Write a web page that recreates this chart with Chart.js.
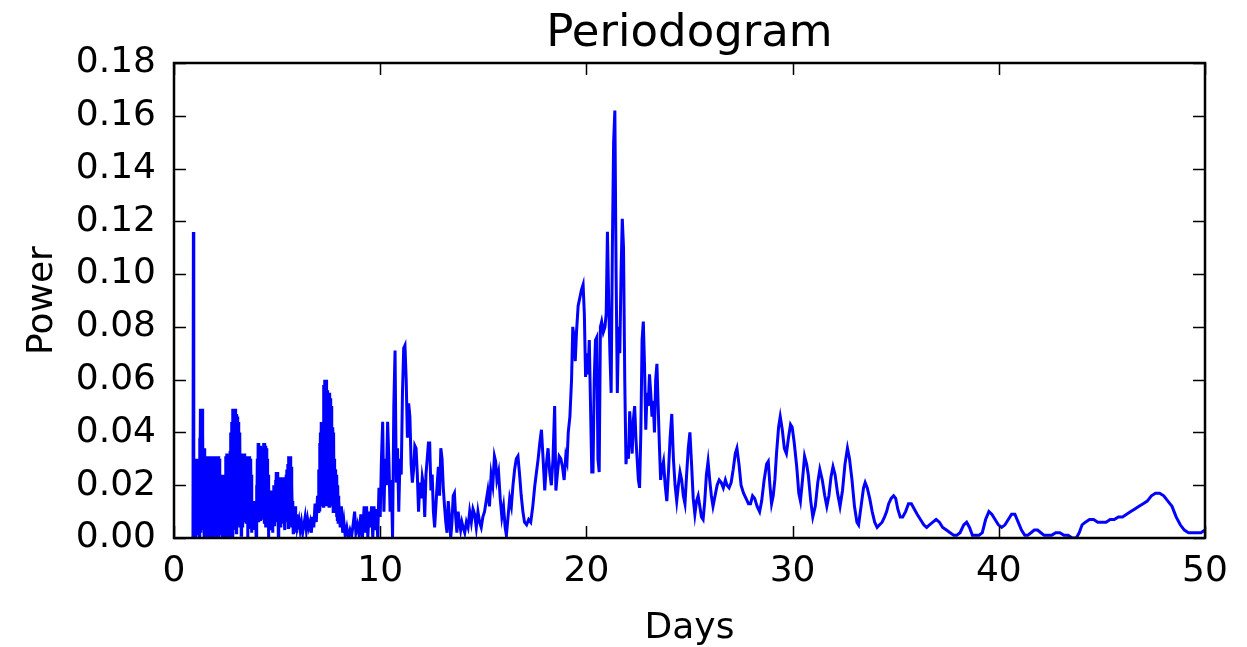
<!DOCTYPE html>
<html>
<head>
<meta charset="utf-8">
<title>Periodogram</title>
<script src="https://cdn.jsdelivr.net/npm/chart.js@4.4.1/dist/chart.umd.min.js"></script>
<style>
    html, body { margin: 0; padding: 0; background: #ffffff; }
    #wrap { width: 1247px; height: 647px; }
</style>
</head>
<body>
<div id="wrap"><canvas id="periodogramChart" width="1247" height="647"></canvas></div>
<script>
// Periodogram: power vs. period (days)

const days = [
    0.92, 0.94, 0.96, 0.98,
    1.00, 1.02, 1.04, 1.06, 1.08, 1.10, 1.12, 1.14, 1.16, 1.18,
    1.20, 1.22, 1.24, 1.26, 1.28, 1.30, 1.32, 1.34, 1.36, 1.38,
    1.40, 1.42, 1.44, 1.46, 1.48, 1.50, 1.52, 1.54, 1.56, 1.58,
    1.60, 1.62, 1.64, 1.66, 1.68, 1.70, 1.72, 1.74, 1.76, 1.78,
    1.80, 1.82, 1.84, 1.86, 1.88, 1.90, 1.92, 1.94, 1.96, 1.98,
    2.00, 2.02, 2.04, 2.06, 2.08, 2.10, 2.12, 2.14, 2.16, 2.18,
    2.20, 2.22, 2.24, 2.26, 2.28, 2.30, 2.32, 2.34, 2.36, 2.38,
    2.40, 2.42, 2.44, 2.46, 2.48, 2.50, 2.52, 2.54, 2.56, 2.58,
    2.60, 2.62, 2.64, 2.66, 2.68, 2.70, 2.72, 2.74, 2.76, 2.78,
    2.80, 2.82, 2.84, 2.86, 2.88, 2.90, 2.92, 2.94, 2.96, 2.98,
    3.00, 3.02, 3.04, 3.06, 3.08, 3.10, 3.12, 3.14, 3.16, 3.18,
    3.20, 3.22, 3.24, 3.26, 3.28, 3.30, 3.32, 3.34, 3.36, 3.38,
    3.40, 3.42, 3.44, 3.46, 3.48, 3.50, 3.52, 3.54, 3.56, 3.58,
    3.60, 3.62, 3.64, 3.66, 3.68, 3.70, 3.72, 3.74, 3.76, 3.78,
    3.80, 3.82, 3.84, 3.86, 3.88, 3.90, 3.92, 3.94, 3.96, 3.98,
    4.00, 4.02, 4.04, 4.06, 4.08, 4.10, 4.12, 4.14, 4.16, 4.18,
    4.20, 4.22, 4.24, 4.26, 4.28, 4.30, 4.32, 4.34, 4.36, 4.38,
    4.40, 4.42, 4.44, 4.46, 4.48, 4.50, 4.52, 4.54, 4.56, 4.58,
    4.60, 4.62, 4.64, 4.66, 4.68, 4.70, 4.72, 4.74, 4.76, 4.78,
    4.80, 4.82, 4.84, 4.86, 4.88, 4.90, 4.92, 4.94, 4.96, 4.98,
    5.00, 5.02, 5.04, 5.06, 5.08, 5.10, 5.12, 5.14, 5.16, 5.18,
    5.20, 5.22, 5.24, 5.26, 5.28, 5.30, 5.32, 5.34, 5.36, 5.38,
    5.40, 5.42, 5.44, 5.46, 5.48, 5.50, 5.52, 5.54, 5.56, 5.58,
    5.60, 5.62, 5.64, 5.66, 5.68, 5.70, 5.72, 5.74, 5.76, 5.78,
    5.80, 5.82, 5.84, 5.86, 5.88, 5.90, 5.92, 5.94, 5.96, 5.98,
    6.00, 6.06,
    6.12, 6.18, 6.24, 6.30, 6.36, 6.42, 6.48, 6.54, 6.60, 6.66,
    6.72, 6.78, 6.84, 6.90, 6.96, 7.00,
    7.02, 7.04, 7.06, 7.08, 7.10, 7.12, 7.14, 7.16, 7.18, 7.20,
    7.22, 7.24, 7.26, 7.28, 7.30, 7.32, 7.34, 7.36, 7.38, 7.40,
    7.42, 7.44, 7.46, 7.48, 7.50, 7.52, 7.54, 7.56, 7.58, 7.60,
    7.62, 7.64, 7.66, 7.68, 7.70, 7.72, 7.74, 7.76, 7.78, 7.80,
    7.82, 7.84, 7.86, 7.88, 7.90, 7.92, 7.94, 7.96, 7.98,
    8.00, 8.06, 8.12, 8.18, 8.24, 8.30, 8.38, 8.46, 8.54, 8.62,
    8.70, 8.76, 8.82, 8.90, 8.98, 9.06, 9.14, 9.22, 9.28, 9.34,
    9.40, 9.46, 9.52, 9.58, 9.64, 9.70, 9.76, 9.82, 9.88, 9.94,
    10.00, 10.06, 10.12, 10.18, 10.24, 10.30, 10.36, 10.42, 10.48, 10.54,
    10.60, 10.66, 10.72, 10.78, 10.84, 10.90, 10.96, 11.02, 11.08, 11.14,
    11.20, 11.26, 11.32, 11.38, 11.44, 11.50, 11.56, 11.62, 11.68, 11.74,
    11.80, 11.86, 11.92, 11.98, 12.04, 12.10, 12.16, 12.22, 12.28, 12.34,
    12.40, 12.46, 12.52, 12.58, 12.64, 12.70, 12.76, 12.82, 12.88, 12.94,
    13.00, 13.06, 13.12, 13.18, 13.24, 13.30, 13.36, 13.42, 13.48, 13.54,
    13.60, 13.66, 13.72, 13.78, 13.84, 13.90, 13.96, 14.02, 14.10, 14.18,
    14.26, 14.34, 14.42, 14.50, 14.58, 14.66, 14.74, 14.82, 14.90, 14.98,
    15.06, 15.14, 15.22, 15.30, 15.38, 15.46, 15.54, 15.60, 15.66, 15.74,
    15.82, 15.90, 15.98, 16.06, 16.12, 16.20, 16.28, 16.36, 16.44, 16.52,
    16.60, 16.68, 16.76, 16.84, 16.92, 17.00, 17.10, 17.20, 17.30, 17.40,
    17.50, 17.58, 17.66, 17.74, 17.82, 17.90, 17.98, 18.06, 18.14, 18.22,
    18.30, 18.38, 18.46, 18.52, 18.60, 18.68, 18.76, 18.84, 18.92, 19.00,
    19.06, 19.12, 19.20, 19.28, 19.34, 19.40, 19.46, 19.52, 19.60, 19.68,
    19.76, 19.84, 19.90, 19.96, 20.02, 20.08, 20.14, 20.20, 20.26, 20.32,
    20.38, 20.44, 20.50, 20.56, 20.62, 20.68, 20.74, 20.82, 20.90, 20.96,
    21.02, 21.08, 21.14, 21.20, 21.26, 21.32, 21.38, 21.44, 21.50, 21.56,
    21.62, 21.68, 21.74, 21.80, 21.86, 21.92, 21.98, 22.04, 22.10, 22.16,
    22.22, 22.28, 22.34, 22.40, 22.46, 22.52, 22.58, 22.64, 22.70, 22.76,
    22.82, 22.88, 22.94, 23.00, 23.06, 23.12, 23.18, 23.24, 23.30, 23.36,
    23.42, 23.48, 23.54, 23.60, 23.66, 23.74, 23.82, 23.90, 23.98, 24.06,
    24.14, 24.22, 24.30, 24.38, 24.46, 24.54, 24.62, 24.70, 24.78, 24.86,
    24.94, 25.02, 25.10, 25.18, 25.26, 25.34, 25.42, 25.50, 25.58, 25.66,
    25.74, 25.82, 25.90, 25.98, 26.06, 26.14, 26.24, 26.34, 26.44, 26.54,
    26.64, 26.74, 26.82, 26.92, 27.02, 27.12, 27.22, 27.30, 27.40, 27.50,
    27.62, 27.74, 27.86, 27.96, 28.06, 28.16, 28.28, 28.40, 28.50, 28.62,
    28.74, 28.82, 28.90, 28.98, 29.06, 29.14, 29.22, 29.32, 29.40, 29.50,
    29.60, 29.70, 29.80, 29.90, 29.98, 30.08, 30.20, 30.30, 30.38, 30.48,
    30.58, 30.68, 30.76, 30.88, 30.98, 31.10, 31.22, 31.32, 31.44, 31.56,
    31.66, 31.76, 31.86, 31.96, 32.06, 32.18, 32.30, 32.42, 32.54, 32.66,
    32.76, 32.88, 33.00, 33.12, 33.20, 33.32, 33.44, 33.52, 33.62, 33.74,
    33.86, 33.98, 34.10, 34.22, 34.34, 34.46, 34.56, 34.66, 34.78, 34.90,
    35.00, 35.10, 35.22, 35.34, 35.48, 35.62, 35.76, 35.90, 36.04, 36.20,
    36.36, 36.50, 36.64, 36.80, 36.96, 37.12, 37.28, 37.46, 37.64, 37.82,
    37.96, 38.12, 38.30, 38.44, 38.58, 38.72, 38.88, 39.04, 39.20, 39.36,
    39.52, 39.66, 39.82, 39.98, 40.14, 40.30, 40.46, 40.62, 40.78, 40.94,
    41.10, 41.26, 41.40, 41.56, 41.72, 41.88, 42.04, 42.20, 42.36, 42.56,
    42.76, 42.96, 43.16, 43.36, 43.56, 43.76, 43.90, 44.04, 44.20, 44.40,
    44.60, 44.80, 45.00, 45.20, 45.40, 45.60, 45.80, 46.00, 46.20, 46.40,
    46.60, 46.80, 47.00, 47.20, 47.40, 47.60, 47.80, 48.00, 48.20, 48.40,
    48.60, 48.80, 49.00, 49.20, 49.40, 49.60, 49.80, 50.00
];

const power = [
    0.000, 0.116, 0.002, 0.028,
    0.030, 0.000, 0.029, 0.004, 0.030, 0.001, 0.027, 0.006, 0.030, 0.002,
    0.030, 0.000, 0.038, 0.005, 0.049, 0.002, 0.048, 0.008, 0.049, 0.003,
    0.040, 0.006, 0.034, 0.000, 0.034, 0.009, 0.031, 0.002, 0.029, 0.005,
    0.031, 0.000, 0.030, 0.007, 0.031, 0.001, 0.028, 0.004, 0.031, 0.000,
    0.030, 0.006, 0.031, 0.002, 0.029, 0.000, 0.031, 0.008, 0.030, 0.001,
    0.031, 0.004, 0.027, 0.000, 0.031, 0.006, 0.030, 0.002, 0.031, 0.000,
    0.030, 0.005, 0.024, 0.001, 0.024, 0.007, 0.022, 0.000, 0.024, 0.004,
    0.023, 0.000, 0.024, 0.006, 0.020, 0.002, 0.031, 0.000, 0.032, 0.005,
    0.031, 0.001, 0.032, 0.007, 0.030, 0.000, 0.033, 0.004, 0.040, 0.002,
    0.044, 0.006, 0.049, 0.000, 0.048, 0.008, 0.047, 0.003, 0.049, 0.006,
    0.045, 0.002, 0.047, 0.007, 0.046, 0.005, 0.044, 0.008, 0.040, 0.004,
    0.038, 0.006, 0.032, 0.001, 0.030, 0.007, 0.032, 0.004, 0.031, 0.008,
    0.032, 0.006, 0.030, 0.009, 0.031, 0.006, 0.028, 0.008, 0.031, 0.000,
    0.030, 0.006, 0.031, 0.009, 0.029, 0.004, 0.030, 0.008, 0.024, 0.002,
    0.014, 0.005, 0.013, 0.009, 0.014, 0.003, 0.012, 0.008, 0.013, 0.000,
    0.020, 0.004, 0.030, 0.008, 0.036, 0.006, 0.035, 0.010, 0.033, 0.007,
    0.035, 0.009, 0.030, 0.007, 0.028, 0.010, 0.034, 0.008, 0.036, 0.006,
    0.036, 0.009, 0.035, 0.004, 0.034, 0.010, 0.030, 0.007, 0.024, 0.000,
    0.020, 0.006, 0.018, 0.008, 0.017, 0.003, 0.018, 0.007, 0.016, 0.002,
    0.018, 0.009, 0.020, 0.005, 0.017, 0.008, 0.022, 0.010, 0.025, 0.006,
    0.024, 0.008, 0.025, 0.000, 0.022, 0.007, 0.023, 0.010, 0.021, 0.004,
    0.023, 0.008, 0.022, 0.010, 0.023, 0.006, 0.021, 0.009, 0.023, 0.003,
    0.021, 0.008, 0.024, 0.006, 0.026, 0.009, 0.028, 0.004, 0.031, 0.008,
    0.030, 0.005, 0.031, 0.010, 0.027, 0.004, 0.020, 0.008, 0.014, 0.002,
    0.012, 0.006, 0.011, 0.003, 0.012, 0.007, 0.008, 0.002, 0.009, 0.004,
    0.004, 0.007,
    0.003, 0.006, 0.002, 0.005, 0.008, 0.003, 0.007, 0.004, 0.006, 0.002,
    0.008, 0.004, 0.013, 0.006, 0.016, 0.010,
    0.026, 0.012, 0.036, 0.010, 0.040, 0.016, 0.044, 0.012, 0.042, 0.014,
    0.044, 0.012, 0.058, 0.018, 0.060, 0.014, 0.059, 0.020, 0.060, 0.012,
    0.056, 0.016, 0.055, 0.022, 0.054, 0.012, 0.055, 0.018, 0.053, 0.014,
    0.050, 0.012, 0.042, 0.016, 0.042, 0.010, 0.040, 0.014, 0.030, 0.010,
    0.026, 0.010, 0.024, 0.008, 0.024, 0.007, 0.020, 0.006, 0.016,
    0.014, 0.004, 0.012, 0.002, 0.006, 0.001, 0.004, 0.000, 0.003, 0.001,
    0.006, 0.010, 0.002, 0.005, 0.001, 0.009, 0.000, 0.012, 0.002, 0.012,
    0.000, 0.010, 0.004, 0.012, 0.000, 0.012, 0.003, 0.011, 0.000, 0.019,
    0.008, 0.030, 0.044, 0.010, 0.030, 0.020, 0.044, 0.030, 0.010, 0.022,
    0.000, 0.050, 0.071, 0.021, 0.034, 0.010, 0.030, 0.024, 0.055, 0.072,
    0.073, 0.060, 0.038, 0.051, 0.046, 0.028, 0.021, 0.026, 0.035, 0.034,
    0.024, 0.010, 0.021, 0.015, 0.023, 0.020, 0.008, 0.024, 0.030, 0.036,
    0.036, 0.018, 0.024, 0.010, 0.004, 0.012, 0.020, 0.027, 0.016, 0.034,
    0.030, 0.019, 0.012, 0.006, 0.002, 0.014, 0.008, 0.000, 0.006, 0.016,
    0.017, 0.008, 0.002, 0.010, 0.006, 0.003, 0.006, 0.004, 0.002, 0.006,
    0.004, 0.010, 0.006, 0.011, 0.009, 0.004, 0.010, 0.006, 0.004, 0.008,
    0.010, 0.014, 0.018, 0.012, 0.024, 0.020, 0.031, 0.029, 0.022, 0.025,
    0.015, 0.008, 0.012, 0.004, 0.001, 0.008, 0.015, 0.012, 0.020, 0.026,
    0.030, 0.031, 0.024, 0.016, 0.010, 0.006, 0.005, 0.007, 0.006, 0.012,
    0.020, 0.025, 0.030, 0.036, 0.041, 0.030, 0.018, 0.028, 0.034, 0.025,
    0.020, 0.030, 0.050, 0.018, 0.025, 0.031, 0.030, 0.027, 0.022, 0.031,
    0.029, 0.040, 0.046, 0.060, 0.080, 0.076, 0.067, 0.078, 0.088, 0.091,
    0.094, 0.096, 0.085, 0.061, 0.070, 0.062, 0.075, 0.050, 0.025, 0.025,
    0.060, 0.075, 0.076, 0.030, 0.025, 0.080, 0.082, 0.078, 0.080, 0.085,
    0.116, 0.090, 0.070, 0.055, 0.110, 0.150, 0.162, 0.100, 0.055, 0.080,
    0.070, 0.100, 0.121, 0.110, 0.060, 0.028, 0.035, 0.030, 0.048, 0.040,
    0.032, 0.045, 0.050, 0.038, 0.030, 0.022, 0.019, 0.040, 0.075, 0.082,
    0.065, 0.041, 0.055, 0.050, 0.062, 0.055, 0.046, 0.052, 0.040, 0.060,
    0.066, 0.050, 0.035, 0.022, 0.026, 0.029, 0.020, 0.014, 0.025, 0.038,
    0.047, 0.030, 0.020, 0.014, 0.020, 0.025, 0.022, 0.016, 0.013, 0.024,
    0.034, 0.040, 0.028, 0.015, 0.009, 0.014, 0.016, 0.012, 0.008, 0.007,
    0.014, 0.024, 0.029, 0.022, 0.016, 0.012, 0.016, 0.020, 0.022, 0.021,
    0.019, 0.022, 0.020, 0.019, 0.021, 0.026, 0.032, 0.034, 0.028, 0.020,
    0.017, 0.015, 0.013, 0.013, 0.016, 0.015, 0.012, 0.010, 0.014, 0.022,
    0.028, 0.029, 0.020, 0.013, 0.016, 0.022, 0.032, 0.042, 0.046, 0.041,
    0.034, 0.032, 0.038, 0.043, 0.042, 0.036, 0.027, 0.017, 0.014, 0.022,
    0.031, 0.028, 0.024, 0.014, 0.008, 0.012, 0.021, 0.026, 0.022, 0.016,
    0.012, 0.016, 0.023, 0.027, 0.024, 0.017, 0.012, 0.018, 0.028, 0.034,
    0.030, 0.022, 0.012, 0.006, 0.005, 0.012, 0.019, 0.021, 0.019, 0.015,
    0.010, 0.006, 0.004, 0.005, 0.006, 0.008, 0.010, 0.013, 0.015, 0.016,
    0.015, 0.011, 0.008, 0.008, 0.010, 0.013, 0.013, 0.011, 0.009, 0.007,
    0.005, 0.004, 0.005, 0.006, 0.007, 0.006, 0.004, 0.003, 0.002, 0.001,
    0.001, 0.002, 0.005, 0.006, 0.004, 0.001, 0.001, 0.001, 0.002, 0.007,
    0.010, 0.009, 0.007, 0.005, 0.004, 0.005, 0.007, 0.009, 0.009, 0.006,
    0.003, 0.001, 0.001, 0.002, 0.003, 0.003, 0.002, 0.001, 0.001, 0.001,
    0.002, 0.002, 0.001, 0.001, 0.000, 0.000, 0.002, 0.005, 0.006, 0.007,
    0.007, 0.006, 0.006, 0.006, 0.007, 0.007, 0.008, 0.008, 0.009, 0.010,
    0.011, 0.012, 0.013, 0.014, 0.016, 0.017, 0.017, 0.016, 0.014, 0.012,
    0.008, 0.005, 0.003, 0.002, 0.002, 0.002, 0.002, 0.003
];

const xTicks = [0, 10, 20, 30, 40, 50];
const yTicks = [0, 0.02, 0.04, 0.06, 0.08, 0.10, 0.12, 0.14, 0.16, 0.18];

const FONT = 'DejaVu Sans';

if (days.length !== power.length) {
    console.warn('days/power length mismatch', days.length, power.length);
}

// matplotlib-style frame with inward ticks on all four sides
const frameTicks = {
    id: 'frameTicks',
    afterDatasetsDraw(chart) {
        const { ctx, chartArea: a, scales: { x, y } } = chart;
        const len = 12;
        ctx.save();
        ctx.strokeStyle = '#000000';
        ctx.lineWidth = 1.5;
        ctx.beginPath();
        xTicks.forEach(v => {
            const px = Math.round(x.getPixelForValue(v)) + 0.5;
            ctx.moveTo(px, a.bottom); ctx.lineTo(px, a.bottom - len);
            ctx.moveTo(px, a.top); ctx.lineTo(px, a.top + len);
        });
        yTicks.forEach(v => {
            const py = Math.round(y.getPixelForValue(v)) + 0.5;
            ctx.moveTo(a.left, py); ctx.lineTo(a.left + len, py);
            ctx.moveTo(a.right, py); ctx.lineTo(a.right - len, py);
        });
        ctx.stroke();
        ctx.lineWidth = 2.5;
        ctx.strokeRect(a.left, a.top, a.right - a.left, a.bottom - a.top);
        ctx.restore();
    }
};

function renderPeriodogram() {
    const canvas = document.getElementById('periodogramChart');
    const points = days.map((d, i) => ({ x: d, y: power[i] }));

    return new Chart(canvas, {
        type: 'line',
        data: {
            datasets: [{
                label: 'Power',
                data: points,
                borderColor: '#0000ff',
                borderWidth: 3,
                pointRadius: 0,
                tension: 0,
                fill: false
            }]
        },
        options: {
            responsive: false,
            animation: false,
            layout: { padding: { left: 0, right: 42, top: 0, bottom: 0 } },
            plugins: {
                legend: { display: false },
                tooltip: { enabled: false },
                title: {
                    display: true,
                    fullSize: false,   // centre over the plot area, not the canvas
                    text: 'Periodogram',
                    color: '#000000',
                    font: { family: FONT, size: 45, weight: 'normal' },
                    padding: { top: 7, bottom: 2 }
                }
            },
            scales: {
                x: {
                    type: 'linear',
                    min: 0,
                    max: 50,
                    afterBuildTicks: s => { s.ticks = xTicks.map(v => ({ value: v })); },
                    afterFit: s => { s.height = 109; },
                    grid: { display: false, drawTicks: false },
                    border: { display: false },
                    ticks: {
                        color: '#000000',
                        padding: 12,
                        maxRotation: 0,
                        font: { family: FONT, size: 36 },
                        callback: v => String(v)
                    },
                    title: {
                        display: true,
                        text: 'Days',
                        color: '#000000',
                        font: { family: FONT, size: 36 },
                        padding: { top: 0, bottom: -3 }
                    }
                },
                y: {
                    type: 'linear',
                    min: 0,
                    max: 0.18,
                    afterBuildTicks: s => { s.ticks = yTicks.map(v => ({ value: v })); },
                    afterFit: s => { s.width = 174; },
                    grid: { display: false, drawTicks: false },
                    border: { display: false },
                    ticks: {
                        color: '#000000',
                        padding: 18,
                        font: { family: FONT, size: 36 },
                        callback: v => v.toFixed(2)
                    },
                    title: {
                        display: true,
                        text: 'Power',
                        color: '#000000',
                        font: { family: FONT, size: 36 },
                        padding: { top: 21, bottom: 0 }
                    }
                }
            }
        },
        plugins: [frameTicks]
    });
}

renderPeriodogram();
</script>
</body>
</html>
